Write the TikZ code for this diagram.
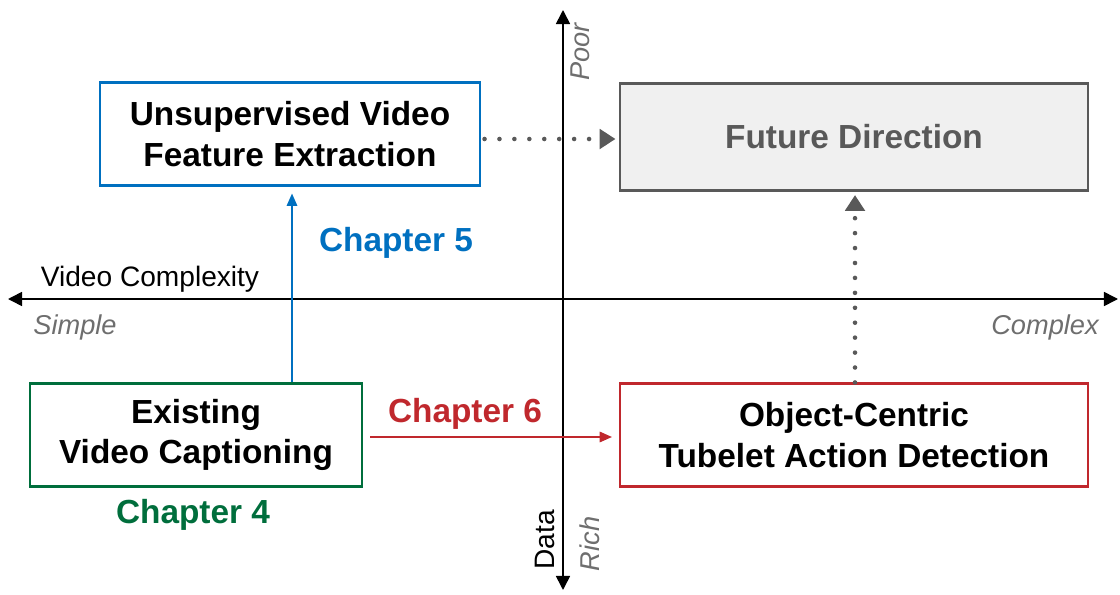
\documentclass[tikz,border=0pt]{standalone}
\usepackage{fontspec}
\setmainfont{Liberation Sans}
\usepackage{tikz}
\usetikzlibrary{arrows.meta, positioning}
\definecolor{chapBlue}{RGB}{0, 112, 192}
\definecolor{chapRed}{RGB}{192, 40, 45}
\definecolor{chapGreen}{RGB}{0, 110, 60}
\definecolor{futureGray}{RGB}{89, 89, 89}
\definecolor{futureFill}{RGB}{240, 240, 240}
\definecolor{hintGray}{RGB}{110, 110, 110}

\begin{document}
\begin{tikzpicture}[
    x=0.02cm, y=-0.02cm,
    block/.style={
        rectangle, minimum width=#1, minimum height=2.06cm,
        align=center, font=\fontsize{19}{23}\selectfont\bfseries,
        line width=1.2pt, inner sep=0pt
    },
    axis/.style={{Triangle[length=8pt,width=8pt]}-{Triangle[length=8pt,width=8pt]}, line width=0.9pt},
    dotarrow/.style={-{Triangle[length=9pt,width=11pt]}, draw=futureGray, line width=2.6pt,
        dash pattern=on 0pt off 8.5pt, line cap=round},
    chaparrow/.style={-{Triangle[length=7pt,width=6pt]}, line width=0.8pt, draw=#1},
    chap/.style={font=\fontsize{19}{22}\selectfont\bfseries, text=#1},
    axlabel/.style={font=\fontsize{16}{19}\selectfont},
    hint/.style={font=\fontsize{15.5}{18}\selectfont\itshape, text=hintGray}
]
\useasboundingbox (0,0) rectangle (1120,595);
% axes
\coordinate (xleft) at (8,299);
\coordinate (xright) at (1118,299);
\coordinate (ytop) at (563,10);
\coordinate (ybottom) at (563,590);
\draw[axis] (xleft) -- (xright);
\draw[axis] (ybottom) -- (ytop);
\node[axlabel] (vidcplx) at (150,279) {Video Complexity};
\node[hint] (simple) at (75,327) {Simple};
\node[hint] (complex) at (1045,327) {Complex};
\node[hint, rotate=90] (poor) at (580,52) {Poor};
\node[axlabel, rotate=90] (data) at (545,540) {Data};
\node[hint, rotate=90] (rich) at (590,544) {Rich};
% boxes
\node[block=7.6cm, draw=chapBlue, fill=white] (unsup) at (290,134) {Unsupervised Video\\Feature Extraction};
\node[block=9.36cm, minimum height=2.14cm, draw=futureGray, fill=futureFill, text=futureGray] (future) at (854,137) {Future Direction};
\node[block=6.64cm, draw=chapGreen, fill=white] (existing) at (196,435) {Existing\\Video Captioning};
\node[block=9.36cm, draw=chapRed, fill=white] (tubelet) at (854,435) {Object-Centric\\Tubelet Action Detection};
% chapters
\node[chap=chapBlue] (chfive) at (396,243) {Chapter 5};
\node[chap=chapRed] (chsix) at (465,414) {Chapter 6};
\node[chap=chapGreen] (chfour) at (193,515) {Chapter 4};
% connectors
\draw[chaparrow=chapBlue] (existing.north -| 292,0) -- ([yshift=-4pt]unsup.south -| 292,0);
\draw[chaparrow=chapRed] ([xshift=4pt]existing.east |- 0,437) -- ([xshift=-4pt]tubelet.west |- 0,437);
\draw[dotarrow] ([xshift=2pt]unsup.east |- 0,139) -- ([xshift=-2pt]future.west |- 0,139);
\draw[dotarrow] (tubelet.north -| 855,0) -- ([yshift=-2pt]future.south -| 855,0);
\end{tikzpicture}
\end{document}
